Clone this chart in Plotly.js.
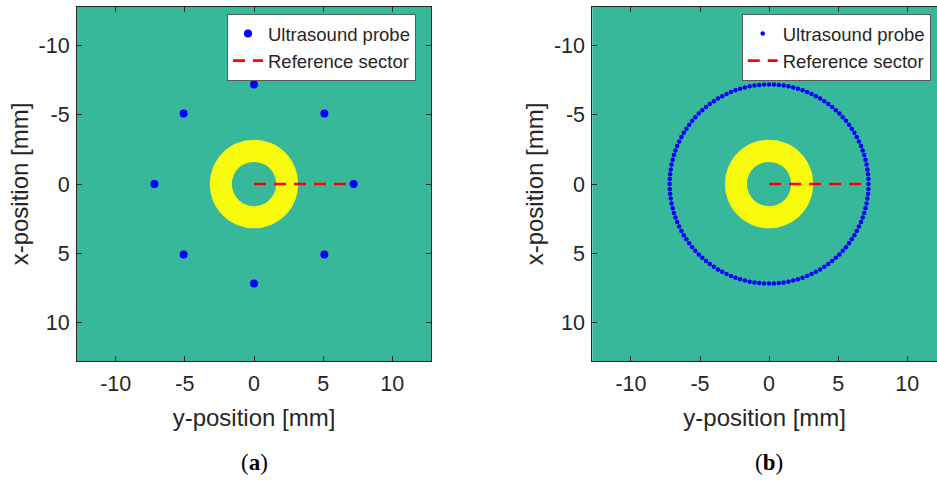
<!DOCTYPE html>
<html>
<head>
<meta charset="utf-8">
<script src="https://cdn.plot.ly/plotly-3.0.1.min.js"></script>
<style>html,body{margin:0;padding:0;background:#fff;}#chart{width:937px;height:484px;}</style>
</head>
<body>
<div id="chart"></div>
<script>
// ---- data ----
const tickVals = [-10, -5, 0, 5, 10];
const tickText = ['-10', '-5', '0', '5', '10'];
const axisLimit = 12.8;
const ringInnerRadius = 1.6;
const ringOuterRadius = 3.2;
// panel (a): 8 probes (horizontal = y-position, vertical = x-position)
const probeYa = [0, 5.09, 7.2, 5.09, 0, -5.09, -7.2, -5.09];
const probeXa = [-7.2, -5.09, 0, 5.09, 7.2, 5.09, 0, -5.09];
// panel (b): dense ring of probes
const probeRadiusB = 7.2;
const probeCountB = 128;
// reference sector line
const refY = [0, 7.2];
const refX = [0, 0];
const legendNames = ['Ultrasound probe', 'Reference sector'];
const panelLabels = ['(<b>a</b>)', '(<b>b</b>)'];

const probeYb = [], probeXb = [];
for (let i = 0; i < probeCountB; i++) {
  const a = 2 * Math.PI * i / probeCountB;
  probeYb.push(probeRadiusB * Math.cos(a));
  probeXb.push(probeRadiusB * Math.sin(a));
}

const GREEN = '#38b89a', YELLOW = '#f9fb0e', TXT = '#262626';
const FONT = 'Liberation Sans, Arial, Helvetica, sans-serif';

const traces = [
  {x: probeYa, y: probeXa, xaxis: 'x', yaxis: 'y', type: 'scatter', mode: 'markers',
   name: legendNames[0], marker: {color: '#0000ff', size: 8}, legend: 'legend'},
  {x: refY, y: refX, xaxis: 'x', yaxis: 'y', type: 'scatter', mode: 'lines',
   name: legendNames[1], line: {color: '#ff0000', width: 2.6, dash: '12px,8px'}, legend: 'legend'},
  {x: probeYb, y: probeXb, xaxis: 'x2', yaxis: 'y2', type: 'scatter', mode: 'markers',
   name: legendNames[0], marker: {color: '#0000ff', size: 4.5}, legend: 'legend2'},
  {x: refY, y: refX, xaxis: 'x2', yaxis: 'y2', type: 'scatter', mode: 'lines',
   name: legendNames[1], line: {color: '#ff0000', width: 2.6, dash: '12px,8px'}, legend: 'legend2'}
];

function ringShapes(xr, yr) {
  return [
    {type: 'circle', xref: xr, yref: yr, x0: -ringOuterRadius, x1: ringOuterRadius,
     y0: -ringOuterRadius, y1: ringOuterRadius, fillcolor: YELLOW, line: {width: 0}, layer: 'below'},
    {type: 'circle', xref: xr, yref: yr, x0: -ringInnerRadius, x1: ringInnerRadius,
     y0: -ringInnerRadius, y1: ringInnerRadius, fillcolor: GREEN, line: {width: 0}, layer: 'below'}
  ];
}

const axBase = {
  tickvals: tickVals, ticktext: tickText, ticks: 'inside', ticklen: 5, tickwidth: 1,
  tickcolor: TXT, showline: true, linecolor: TXT, linewidth: 1, showgrid: false, zeroline: false,
  tickfont: {family: FONT, size: 21.5, color: TXT}, automargin: false, fixedrange: true
};
const xTitle = {text: 'y-position [mm]', font: {family: FONT, size: 24, color: TXT}, standoff: 14};
const yTitle = {text: 'x-position [mm]', font: {family: FONT, size: 24, color: TXT}, standoff: 3};
const legBase = {
  bgcolor: '#ffffff', bordercolor: '#5a5a5a', borderwidth: 1,
  font: {family: FONT, size: 18.5, color: TXT}, xanchor: 'right', yanchor: 'top',
  tracegroupgap: 0, itemwidth: 30
};

const layout = {
  width: 937, height: 484, margin: {l: 0, r: 0, t: 0, b: 0},
  paper_bgcolor: '#ffffff', plot_bgcolor: GREEN, showlegend: true,
  font: {family: FONT, color: TXT},
  xaxis: Object.assign({}, axBase, {domain: [77/937, 431/937], range: [-axisLimit, axisLimit], anchor: 'y', mirror: 'ticks',
    ticklabelstandoff: 3, title: xTitle}),
  yaxis: Object.assign({}, axBase, {domain: [1 - 361/484, 1 - 7/484], range: [axisLimit, -axisLimit], anchor: 'x', mirror: 'ticks',
    ticklabelstandoff: 2, title: yTitle}),
  xaxis2: Object.assign({}, axBase, {domain: [592.3/937, 1], range: [-axisLimit, (937 - 592.3) / 13.81 - axisLimit], anchor: 'y2', mirror: 'ticks',
    ticklabelstandoff: 3, title: xTitle}),
  yaxis2: Object.assign({}, axBase, {domain: [1 - 361/484, 1 - 7/484], range: [axisLimit, -axisLimit], anchor: 'x2', mirror: false,
    ticklabelstandoff: 2, title: yTitle}),
  legend: Object.assign({}, legBase, {x: 416/937, y: 1 - 14/484}),
  legend2: Object.assign({}, legBase, {x: 930.7/937, y: 1 - 14/484}),
  shapes: ringShapes('x', 'y').concat(ringShapes('x2', 'y2')),
  annotations: [
    {text: panelLabels[0], xref: 'paper', yref: 'paper', x: 254/937, y: 1 - 462/484, xanchor: 'center', yanchor: 'middle',
     showarrow: false, font: {family: 'Liberation Serif, Times New Roman, serif', size: 23, color: '#000'}},
    {text: panelLabels[1], xref: 'paper', yref: 'paper', x: 769/937, y: 1 - 462/484, xanchor: 'center', yanchor: 'middle',
     showarrow: false, font: {family: 'Liberation Serif, Times New Roman, serif', size: 23, color: '#000'}}
  ]
};

Plotly.newPlot('chart', traces, layout, {displayModeBar: false, staticPlot: true});
</script>
</body>
</html>
